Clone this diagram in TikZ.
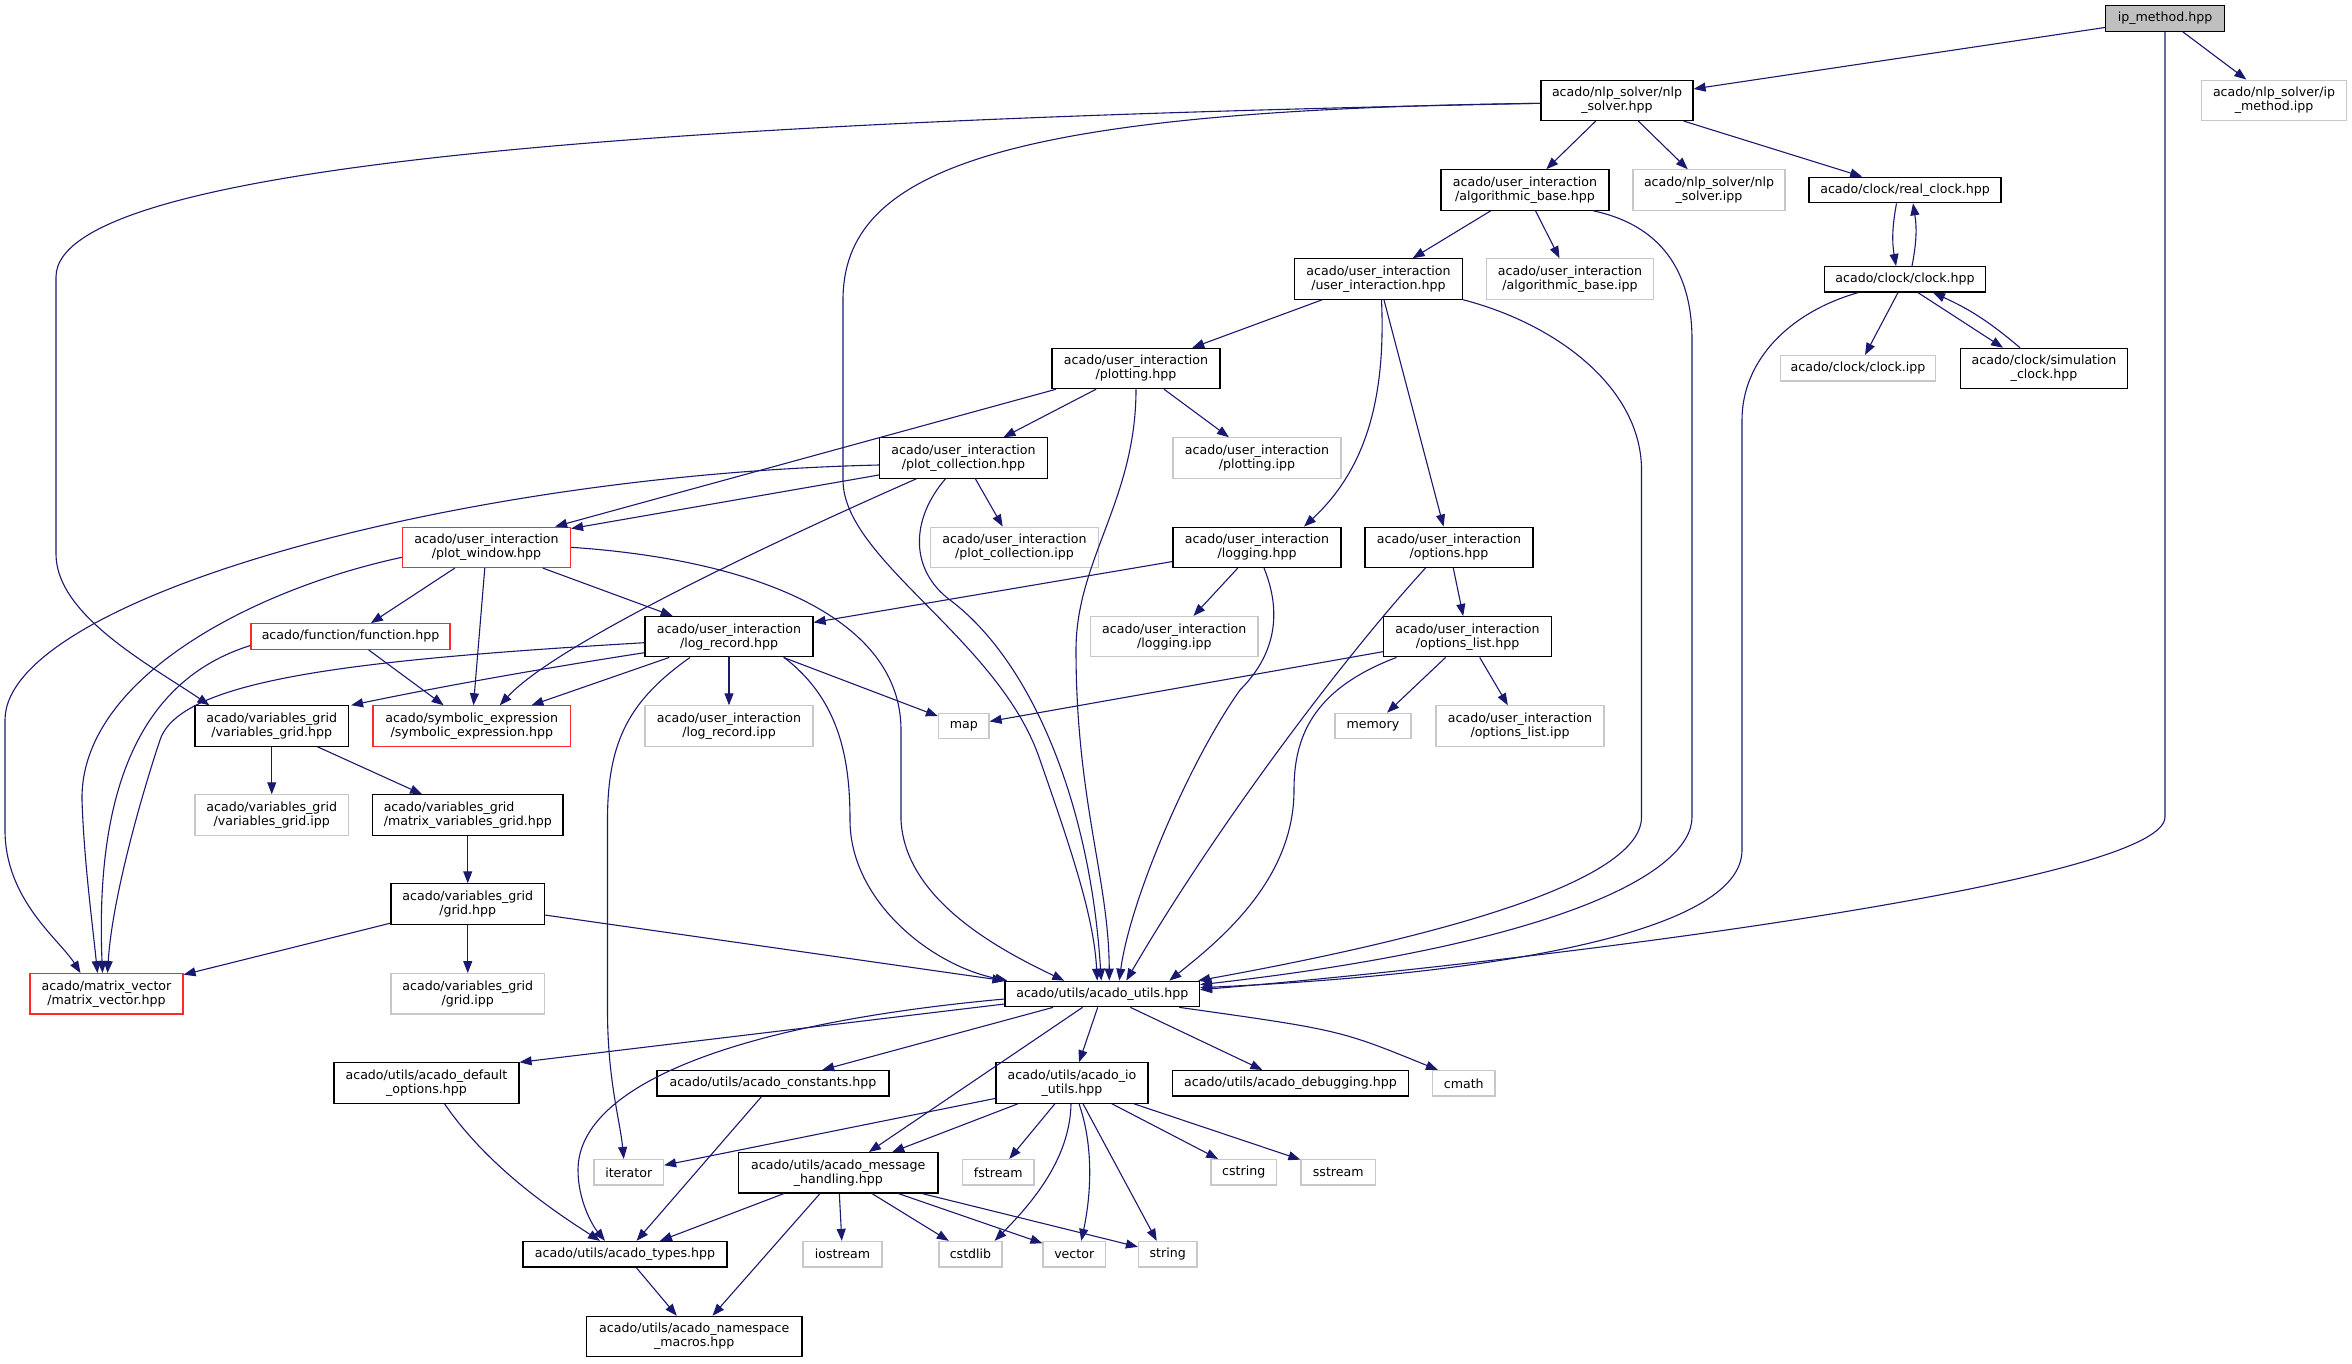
\documentclass[tikz,border=0pt]{standalone}
\usepackage{fontspec}
\setmainfont{DejaVu Sans}
\usetikzlibrary{arrows.meta}
\definecolor{edgecol}{HTML}{191970}
\definecolor{extgray}{HTML}{C8C8C8}
\definecolor{rootgray}{HTML}{BFBFBF}
\definecolor{truncred}{HTML}{FF2A2A}
\begin{document}
\begin{tikzpicture}[x=1pt,y=-1pt,
  box/.style={rectangle, draw=black, fill=white, line width=1.2pt, inner sep=0pt, align=center,
    font=\fontsize{12.6}{14}\selectfont, minimum height=25.5pt},
  two/.style={minimum height=40.3pt},
  ext/.style={box, draw=extgray},
  trunc/.style={box, draw=truncred},
  root/.style={box, fill=rootgray},
  arr/.style={draw=edgecol, line width=1.1pt, -{Triangle[length=12pt,width=9pt]}}
]
\useasboundingbox (0,0) rectangle (2352,1363);
% ---------------- nodes ----------------
\node[root, minimum width=119pt] (ipm) at (2165,18.5) {ip\_method.hpp};
\node[box, two, minimum width=152pt] (nlp) at (1617,100.3) {acado/nlp\_solver/nlp\\\_solver.hpp};
\node[ext, two, minimum width=144.5pt] (ipmipp) at (2274,100.3) {acado/nlp\_solver/ip\\\_method.ipp};
\node[box, two, minimum width=168pt] (alg) at (1525,190) {acado/user\_interaction\\/algorithmic\_base.hpp};
\node[ext, two, minimum width=152pt] (nlpipp) at (1709,190) {acado/nlp\_solver/nlp\\\_solver.ipp};
\node[box, minimum width=192pt] (rclk) at (1905,190) {acado/clock/real\_clock.hpp};
\node[box, two, minimum width=168pt] (ui) at (1378.5,279) {acado/user\_interaction\\/user\_interaction.hpp};
\node[ext, two, minimum width=167.5pt] (algipp) at (1570,279) {acado/user\_interaction\\/algorithmic\_base.ipp};
\node[box, minimum width=161pt] (clk) at (1905,279.3) {acado/clock/clock.hpp};
\node[ext, minimum width=155.5pt] (clkipp) at (1858,368.3) {acado/clock/clock.ipp};
\node[box, two, minimum width=166.5pt] (sim) at (2044,368.5) {acado/clock/simulation\\\_clock.hpp};
\node[box, two, minimum width=168pt] (plt) at (1136,368.5) {acado/user\_interaction\\/plotting.hpp};
\node[box, two, minimum width=168pt] (pc) at (963.5,458) {acado/user\_interaction\\/plot\_collection.hpp};
\node[ext, two, minimum width=168pt] (pltipp) at (1257,458) {acado/user\_interaction\\/plotting.ipp};
\node[trunc, two, minimum width=168pt] (pw) at (486.5,547.3) {acado/user\_interaction\\/plot\_window.hpp};
\node[ext, two, minimum width=168pt] (pcipp) at (1014.5,547.3) {acado/user\_interaction\\/plot\_collection.ipp};
\node[box, two, minimum width=168pt] (lg) at (1257,547.3) {acado/user\_interaction\\/logging.hpp};
\node[box, two, minimum width=168pt] (opt) at (1449,547.3) {acado/user\_interaction\\/options.hpp};
\node[trunc, minimum width=199pt] (fn) at (350.5,636.5) {acado/function/function.hpp};
\node[box, two, minimum width=168pt] (lr) at (729,636.7) {acado/user\_interaction\\/log\_record.hpp};
\node[ext, two, minimum width=167.5pt] (lgipp) at (1174.25,636.7) {acado/user\_interaction\\/logging.ipp};
\node[box, two, minimum width=168pt] (ol) at (1467.5,636.7) {acado/user\_interaction\\/options\_list.hpp};
\node[box, two, minimum width=153.5pt] (vg) at (271.75,726) {acado/variables\_grid\\/variables\_grid.hpp};
\node[trunc, two, minimum width=197.5pt] (se) at (471.75,726) {acado/symbolic\_expression\\/symbolic\_expression.hpp};
\node[ext, two, minimum width=168pt] (lripp) at (729,726) {acado/user\_interaction\\/log\_record.ipp};
\node[ext, minimum width=50.5pt] (map) at (963.75,726) {map};
\node[ext, minimum width=76pt] (mem) at (1373,726) {memory};
\node[ext, two, minimum width=168pt] (olipp) at (1520,726) {acado/user\_interaction\\/options\_list.ipp};
\node[ext, two, minimum width=153.5pt] (vgipp) at (271.75,815) {acado/variables\_grid\\/variables\_grid.ipp};
\node[box, two, minimum width=190.5pt, align=left] (mvg) at (467.75,815) {acado/variables\_grid\\/matrix\_variables\_grid.hpp};
\node[box, two, minimum width=153.5pt] (grid) at (467.75,904) {acado/variables\_grid\\/grid.hpp};
\node[trunc, two, minimum width=153pt] (mv) at (106.5,993.8) {acado/matrix\_vector\\/matrix\_vector.hpp};
\node[ext, two, minimum width=153.5pt] (gridipp) at (467.75,993.8) {acado/variables\_grid\\/grid.ipp};
\node[box, minimum width=194.5pt] (utils) at (1102.25,994) {acado/utils/acado\_utils.hpp};
\node[box, two, minimum width=185pt] (dopt) at (426.5,1083) {acado/utils/acado\_default\\\_options.hpp};
\node[box, minimum width=232pt] (const) at (773,1083.3) {acado/utils/acado\_constants.hpp};
\node[box, two, minimum width=152pt] (io) at (1072,1083) {acado/utils/acado\_io\\\_utils.hpp};
\node[box, minimum width=236pt] (dbg) at (1290.5,1083.3) {acado/utils/acado\_debugging.hpp};
\node[ext, minimum width=62.5pt] (cmath) at (1463.75,1083.3) {cmath};
\node[ext, minimum width=69.5pt] (iter) at (628.75,1172.3) {iterator};
\node[box, two, minimum width=199.5pt] (mh) at (838.25,1172.8) {acado/utils/acado\_message\\\_handling.hpp};
\node[ext, minimum width=71.5pt] (fstream) at (998.25,1172.3) {fstream};
\node[ext, minimum width=65.5pt] (cstring) at (1243.75,1172.3) {cstring};
\node[ext, minimum width=74.5pt] (sstream) at (1338.25,1172.3) {sstream};
\node[box, minimum width=204pt] (types) at (625,1254.2) {acado/utils/acado\_types.hpp};
\node[ext, minimum width=79pt] (iostream) at (842.5,1254.2) {iostream};
\node[ext, minimum width=63pt] (cstdlib) at (970.5,1254.2) {cstdlib};
\node[ext, minimum width=62.5pt] (vector) at (1074.25,1254.2) {vector};
\node[ext, minimum width=58.5pt] (string) at (1167.75,1254.2) {string};
\node[box, two, minimum width=215.5pt] (ns) at (694.25,1336.5) {acado/utils/acado\_namespace\\\_macros.hpp};
% ---------------- edges ----------------
\draw[arr] (ipm) -- (nlp);
\draw[arr] (ipm) -- (ipmipp);
\draw[arr] (ipm.south) -- (2165,817) .. controls (2165,885) and (1500,965) .. ([yshift=-9pt]utils.north east);
\draw[arr] ([yshift=-3pt]nlp.west) .. controls (700,120) and (56,160) .. (56,277) -- (56,554) .. controls (56,615) and (150,665) .. ([xshift=15pt]vg.north west);
\draw[arr] ([yshift=-3pt]nlp.west) .. controls (1000,110) and (843,170) .. (843,300) -- (843,480) .. controls (843,560) and (1000,640) .. (1040,760) .. controls (1075,860) and (1094,920) .. ([xshift=-5pt]utils.north);
\draw[arr] (nlp) -- (alg);
\draw[arr] (nlp) -- (nlpipp);
\draw[arr] (nlp) -- (rclk);
\draw[arr] (alg) -- (ui);
\draw[arr] (alg) -- (algipp);
\draw[arr] ([xshift=68pt]alg.south) .. controls (1660,225) and (1692,270) .. (1692,340) -- (1692,817) .. controls (1692,875) and (1550,945) .. ([yshift=-4pt]utils.north east);
\draw[arr] ([xshift=-8.5pt]rclk.south) to[bend right=10] ([xshift=-9pt]clk.north);
\draw[arr] ([xshift=7pt]clk.north) to[bend right=10] ([xshift=8pt]rclk.south);
\draw[arr] (clk) -- (clkipp);
\draw[arr] ([xshift=13pt]clk.south) -- ([xshift=-41pt]sim.north);
\draw[arr] ([xshift=-24pt]sim.north) to[bend right=8] ([xshift=28pt]clk.south);
\draw[arr] ([xshift=-47pt]clk.south) .. controls (1790,312) and (1742,360) .. (1742,420) -- (1742,850) .. controls (1742,935) and (1480,975) .. ([yshift=-7pt]utils.north east);
\draw[arr] (ui) -- (plt);
\draw[arr] ([xshift=3pt]ui.south) .. controls (1386,400) and (1365,470) .. ([xshift=47pt]lg.north);
\draw[arr] (ui) -- (opt);
\draw[arr] (ui.south east) .. controls (1560,325) and (1641.5,390) .. (1641.5,470) -- (1641.5,817) .. controls (1641.5,880) and (1450,935) .. ([xshift=-2pt]utils.north east);
\draw[arr] (plt) -- (pc);
\draw[arr] (plt) -- (pltipp);
\draw[arr] ([xshift=-80pt]plt.south) -- ([xshift=-16pt]pw.north east);
\draw[arr] (plt.south) .. controls (1136,500) and (1076,560) .. (1076,650) .. controls (1076,800) and (1109,880) .. ([xshift=7pt]utils.north);
\draw[arr] ([yshift=-17pt]pc.west) -- ([yshift=-2pt]pw.north east);
\draw[arr] (pc) -- (pcipp);
\draw[arr] ([xshift=-18pt]pc.south) .. controls (910,520) and (910,570) .. (950,600) .. controls (1030,660) and (1090,800) .. ([xshift=-1pt]utils.north);
\draw[arr] ([xshift=-47pt]pc.south) .. controls (800,530) and (560,640) .. ([xshift=28pt]se.north);
\draw[arr] ([yshift=-7pt]pc.west) .. controls (450,475) and (5,600) .. (5,720) -- (5,830) .. controls (5,900) and (60,940) .. ([xshift=-26pt]mv.north);
\draw[arr] (pw) -- (fn);
\draw[arr] (pw) -- (se);
\draw[arr] (pw) -- (lr);
\draw[arr] ([yshift=-10pt]pw.west) .. controls (250,590) and (80,680) .. (82,800) .. controls (84,860) and (92,920) .. ([xshift=-9pt]mv.north);
\draw[arr] (pw.east) .. controls (760,560) and (901,620) .. (901,730) -- (901,820) .. controls (905,900) and (1000,950) .. ([xshift=-38pt]utils.north);
\draw[arr] (fn) -- (se);
\draw[arr] ([yshift=-9pt]fn.west) .. controls (140,680) and (95,790) .. ([xshift=-4pt]mv.north);
\draw[arr] (lg) -- (lr);
\draw[arr] (lg) -- (lgipp);
\draw[arr] ([xshift=7pt]lg.south) .. controls (1285,620) and (1270,660) .. (1240,690) .. controls (1190,760) and (1130,900) .. ([xshift=17pt]utils.north);
\draw[arr] (opt) -- (ol);
\draw[arr] ([xshift=-23.5pt]opt.south) .. controls (1350,650) and (1220,820) .. ([xshift=24pt]utils.north);
\draw[arr] (ol) -- (map);
\draw[arr] (ol) -- (mem);
\draw[arr] (ol) -- (olipp);
\draw[arr] ([xshift=-71pt]ol.south) .. controls (1310,690) and (1294,740) .. (1294,790) .. controls (1294,880) and (1220,940) .. ([xshift=67pt]utils.north);
\draw[arr] ([yshift=-16pt]lr.west) .. controls (500,675) and (400,695) .. ([xshift=2pt]vg.north east);
\draw[arr] (lr) -- (se);
\draw[arr] (lr) -- (lripp);
\draw[arr] (lr) -- (map);
\draw[arr] ([xshift=-39pt]lr.south) .. controls (630,700) and (607.5,740) .. (607.5,820) -- (607.5,1010) .. controls (607.5,1080) and (620,1120) .. ([xshift=-5pt]iter.north);
\draw[arr] ([yshift=-6pt]lr.west) .. controls (350,660) and (180,680) .. (160,740) .. controls (140,800) and (112,900) .. ([xshift=1pt]mv.north);
\draw[arr] ([xshift=55pt]lr.south) .. controls (840,700) and (850,760) .. (850,820) .. controls (850,900) and (930,965) .. ([xshift=3pt]utils.north west);
\draw[arr] (vg) -- (vgipp);
\draw[arr] (vg) -- (mvg);
\draw[arr] (mvg) -- (grid);
\draw[arr] (grid) -- (mv);
\draw[arr] (grid) -- (gridipp);
\draw[arr] (grid) -- (utils.north west);
\draw[arr] ([yshift=-10pt]utils.west) -- (dopt.north east);
\draw[arr] ([yshift=-5pt]utils.west) .. controls (720,1025) and (578,1090) .. (578,1170) .. controls (578,1200) and (592,1225) .. ([xshift=-20pt]types.north);
\draw[arr] (utils) -- (const);
\draw[arr] (utils) -- (io);
\draw[arr] (utils) -- (dbg);
\draw[arr] ([xshift=77pt]utils.south) .. controls (1340,1030) .. ([xshift=6pt]cmath.north west);
\draw[arr] (utils) -- (mh);
\draw[arr] ([xshift=18pt]dopt.south) .. controls (490,1170) and (560,1215) .. ([xshift=-25pt]types.north);
\draw[arr] (const) -- (types);
\draw[arr] (io) -- (iter);
\draw[arr] (io) -- (mh);
\draw[arr] (io) -- (fstream);
\draw[arr] (io) -- (cstring);
\draw[arr] (io) -- (sstream);
\draw[arr] ([xshift=-1pt]io.south) .. controls (1070,1160) and (1030,1205) .. ([xshift=-8pt]cstdlib.north east);
\draw[arr] ([xshift=7pt]io.south) .. controls (1095,1150) and (1090,1200) .. ([xshift=7pt]vector.north);
\draw[arr] ([xshift=11pt]io.south) -- ([xshift=-11pt]string.north);
\draw[arr] (mh) -- (types);
\draw[arr] (mh) -- (ns);
\draw[arr] (mh) -- (iostream);
\draw[arr] (mh) -- (cstdlib);
\draw[arr] (mh) -- (vector);
\draw[arr] (mh) -- (string);
\draw[arr] (types) -- (ns);
\end{tikzpicture}
\end{document}
